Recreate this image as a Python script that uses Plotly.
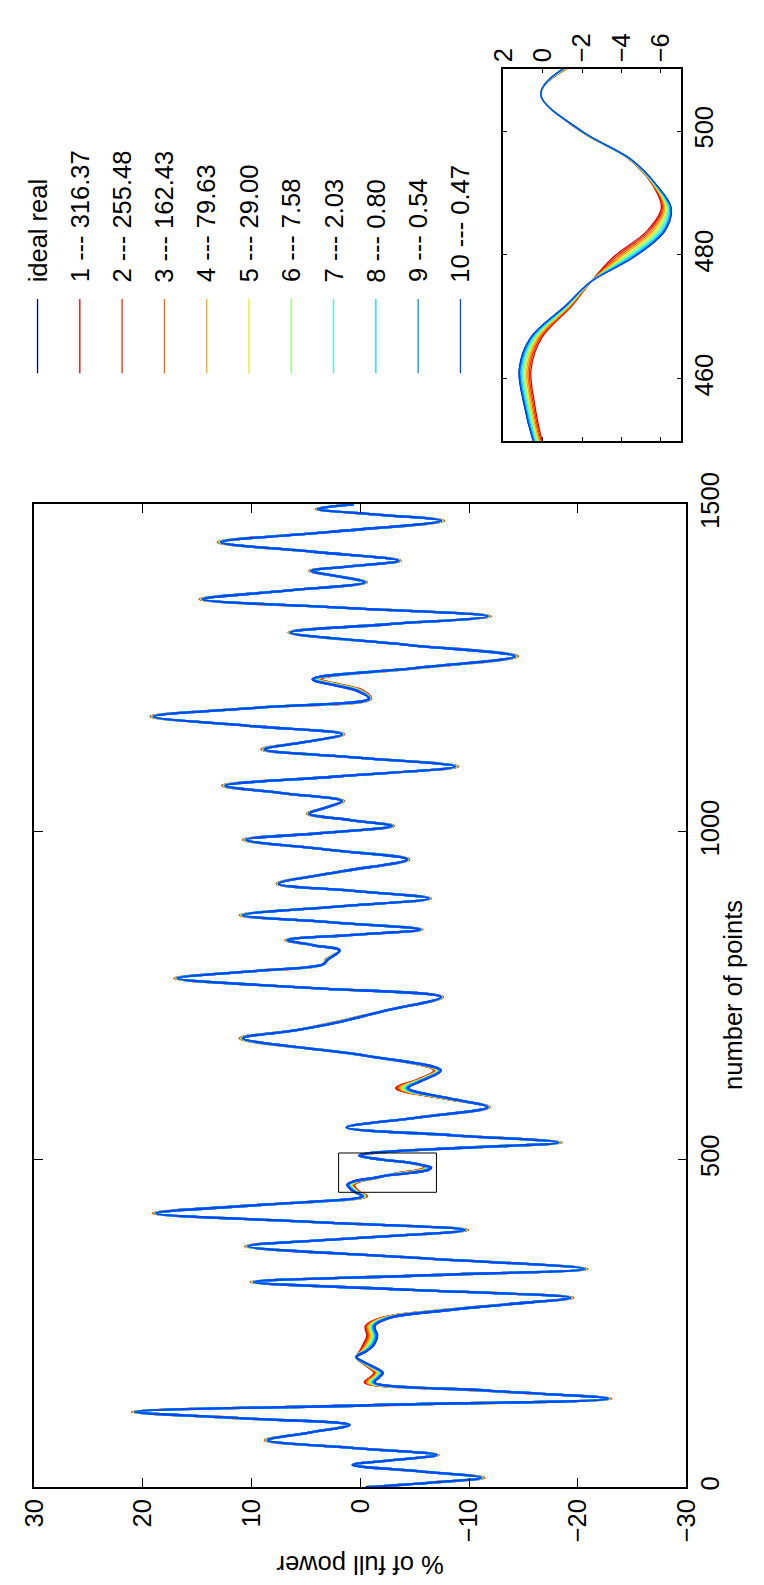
import plotly.graph_objects as go

# ---------------- data ----------------
# sample index ("number of points")
N_PTS = [0, 7, 14.5, 24, 34, 41.5, 49, 60, 71.6, 83, 95, 105, 115, 125, 135, 147,
         160, 167, 174.6, 186, 198.5, 208, 218, 231, 246, 258, 270, 279, 289, 301,
         313, 323, 333, 350, 367.6, 380, 392.5, 405, 418, 431, 444, 450.3, 456,
         461.5, 466.6, 471.8, 475.7, 479.7, 483.9, 487.6, 491.2, 495.4, 500, 505.9,
         510, 518, 526, 537, 549, 564, 580, 594, 609, 622, 636, 659, 685, 697,
         708.5, 728, 748, 762, 776.6, 788, 798, 805, 819, 827, 835, 843, 851, 862,
         873, 886, 898.5, 910, 921, 940, 958, 973, 988, 998, 1009, 1018, 1028,
         1037, 1047, 1059, 1070.6, 1085, 1100, 1113, 1126, 1137, 1149, 1162, 1176,
         1190, 1203.5, 1216, 1233, 1250, 1268, 1286, 1304.5, 1317, 1329, 1342,
         1355, 1368, 1381, 1390, 1398.5, 1406, 1414, 1428, 1442, 1458, 1475, 1484,
         1493, 1500]
# ideal curve (% of full power)
V_IDEAL = [-0.5, -6.5, -11.1, -5.5, 0.7, -3.2, -7.0, 0.8, 8.5, 4.8, 1.0, 10.8, 20.7,
           -1.0, -22.8, -12.0, -1.3, -1.7, -2.06, -0.9, 0.37, -0.6, -1.26, -1.55,
           -1.3, -2.6, -8.0, -13.5, -19.3, -4.7, 9.8, -5.4, -20.6, -5.2, 10.3, 0.4,
           -9.6, 4.6, 18.8, 9.0, -0.2, 0.52, 0.96, 1.2, 0.63, -1.15, -2.45, -4.65,
           -6.2, -6.52, -5.8, -4.49, -1.97, 0.1, -1.0, -9.5, -18.2, -8.5, 1.25,
           -5.2, -11.7, -8.0, -4.4, -5.9, -7.4, -0.3, 10.8, 6.0, 2.3, -2.5, -7.4,
           4.7, 16.8, 9.5, 3.4, 3.0, 1.9, 4.3, 6.7, 0.6, -5.5, 2.6, 10.8, 2.2, -6.3,
           0.6, 7.5, 1.6, -4.3, 3.1, 10.5, 3.8, -2.9, 0.9, 4.7, 3.2, 1.7, 7.0, 12.4,
           1.8, -8.7, 0.0, 8.8, 5.2, 1.7, 10.3, 19.0, 9.1, -0.8, 0.4, 4.4, -5.0,
           -14.2, -4.0, 6.4, -2.6, -11.7, 1.4, 14.5, 7.0, -0.4, 2.0, 4.5, 0.5, -3.5,
           4.6, 12.8, 2.7, -7.4, -1.8, 3.9, 0.6]
# deviation of the first (red) iteration from the ideal curve
V_RED_DELTA = [0, 0, -0.3, 0, 0, 0, -0.2, 0, 0.3, 0, 0.2, 0, 0.3, 0, -0.3, 0.3,
               0.9, 0.8, 0.76, 0.4, 0, 0.6, 0.96, 0.91, 0.8, 0.7, 0.5, 0.2, -0.3, 0,
               0.3, 0, -0.3, 0, 0.3, 0, -0.3, 0, 0.3, 0, -0.4, -0.46, -0.54, -0.6,
               -0.57, -0.33, 0, 1.05, 0.9, 0.5, 0.2, 0.09, 0.07, 0, -0.17, 0, -0.3,
               0, 0, 0, -0.2, 0.6, 1.1, 0.6, 0.6, 0, 0.3, 0, 0.3, 0, -0.2, 0, 0.3, 0,
               0, 0.2, 0, 0, 0.2, 0, -0.2, 0, 0.3, 0, -0.2, 0, 0.2, 0, -0.2, 0, 0.3,
               0, -0.2, 0, 0.2, 0, -0.2, 0, 0.3, 0, -0.3, 0, 0.3, 0, -0.2, 0, 0.3, 0,
               -0.2, -0.6, -0.8, -0.3, -0.3, 0, 0.2, 0, -0.3, 0, 0.3, 0, -0.2, 0, 0.2,
               0, -0.2, 0, 0.3, 0, -0.3, 0, 0.2, 0]
# how far each series sits from the ideal, relative to iteration 1
SERIES_LABELS = ["ideal real", "1 --- 316.37", "2 --- 255.48", "3 --- 162.43",
                 "4 --- 79.63", "5 --- 29.00", "6 --- 7.58", "7 --- 2.03",
                 "8 --- 0.80", "9 --- 0.54", "10 --- 0.47"]
SERIES_SPREAD = [0.0, 1.0, 0.88, 0.76, 0.64, 0.52, 0.41, 0.30, 0.19, 0.09, 0.02]

ZOOM_N = [450, 510]
ZOOM_V = [-7, 2]
MAIN_V_TICKS = [30, 20, 10, 0, -10, -20, -30]
MAIN_N_TICKS = [0, 500, 1000, 1500]
INSET_V_TICKS = [2, 0, -2, -4, -6]
INSET_N_TICKS = [460, 480, 500]

# ---------------- style ----------------
COLORS = ["#00008f", "#d80000", "#ff2200", "#ff6a00", "#ffaa00", "#e2ee20",
          "#8cff70", "#40ffc0", "#00dcff", "#0090ff", "#0048ff"]
W, H = 764, 1585
FONT = "Liberation Sans, Arial, Helvetica, sans-serif"
FS = 25.5


def px_x(p):
    return p / W


def px_y(p):
    return 1 - p / H


fig = go.Figure()
for lab, spread, col in zip(SERIES_LABELS, SERIES_SPREAD, COLORS):
    vals = [v + spread * d for v, d in zip(V_IDEAL, V_RED_DELTA)]
    for xa, ya, lw in (("x", "y", 2.3), ("x2", "y2", 1.3)):
        fig.add_trace(go.Scatter(
            x=vals, y=N_PTS, mode="lines", name=lab,
            line=dict(color=col, width=lw, shape="spline", smoothing=1.0),
            xaxis=xa, yaxis=ya, showlegend=False, hoverinfo="skip"))

ax_common = dict(showgrid=False, zeroline=False, showline=True, linecolor="black",
                 linewidth=1.5, mirror="ticks", ticks="inside", tickcolor="black",
                 tickwidth=1, tickangle=-90,
                 tickfont=dict(family=FONT, size=FS, color="black"))

fig.update_layout(
    width=W, height=H, autosize=False,
    margin=dict(l=0, r=0, t=0, b=0),
    paper_bgcolor="white", plot_bgcolor="white",
    xaxis=dict(domain=[px_x(20), px_x(697)], range=[30, -30], tickvals=MAIN_V_TICKS,
               anchor="y", side="bottom", ticklen=9, **ax_common),
    yaxis=dict(domain=[px_y(1488), px_y(483)], range=[0, 1500], tickvals=MAIN_N_TICKS,
               anchor="x", side="right", ticklen=9, **ax_common),
    xaxis2=dict(domain=[px_x(507), px_x(691)], range=[ZOOM_V[1], ZOOM_V[0]],
                tickvals=INSET_V_TICKS, anchor="y2", side="top", ticklen=4, **ax_common),
    yaxis2=dict(domain=[px_y(418), px_y(38)], range=ZOOM_N, tickvals=INSET_N_TICKS,
                anchor="x2", side="right", ticklen=4, **ax_common),
)

shapes = [dict(type="rect", xref="x", yref="y", x0=ZOOM_V[0], x1=ZOOM_V[1],
               y0=ZOOM_N[0], y1=ZOOM_N[1], line=dict(color="black", width=1))]
annotations = [
    dict(text="% of full power", x=px_x(358), y=px_y(1567), xref="paper", yref="paper",
         showarrow=False, textangle=180, font=dict(family=FONT, size=FS, color="black"),
         xanchor="center", yanchor="middle"),
    dict(text="number of points", x=px_x(746), y=px_y(985), xref="paper", yref="paper",
         showarrow=False, textangle=-90, font=dict(family=FONT, size=FS, color="black"),
         xanchor="center", yanchor="middle"),
]
for i, (lab, col) in enumerate(zip(SERIES_LABELS, COLORS)):
    lx = 23.4 + 43.9 * i
    shapes.append(dict(type="line", xref="paper", yref="paper", x0=px_x(lx), x1=px_x(lx),
                       y0=px_y(273), y1=px_y(349), line=dict(color=col, width=1.3)))
    annotations.append(dict(text=lab, x=px_x(lx), y=px_y(258), xref="paper", yref="paper",
                            showarrow=False, textangle=-90, xanchor="center",
                            yanchor="bottom",
                            font=dict(family=FONT, size=FS, color="black")))
fig.update_layout(shapes=shapes, annotations=annotations)

fig.write_html("out.html", config={"displayModeBar": False},
               post_script="document.body.style.margin='0';")
